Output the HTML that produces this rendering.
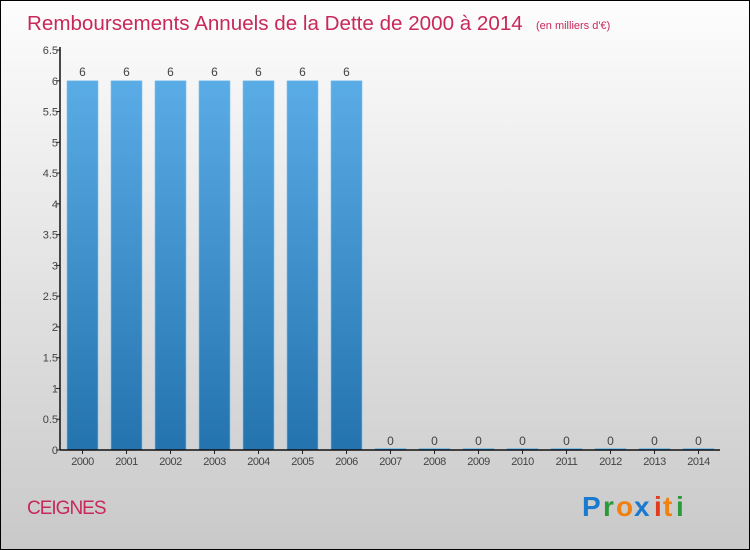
<!DOCTYPE html>
<html><head><meta charset="utf-8"><style>
body{margin:0;width:750px;height:550px;overflow:hidden}
svg{display:block;font-family:"Liberation Sans",sans-serif}
</style></head><body>
<svg id="chart" width="750" height="550">
<defs>
<linearGradient id="bg" x1="0" y1="0" x2="0" y2="1"><stop offset="0" stop-color="#fdfdfd"/><stop offset="1" stop-color="#c9c9c9"/></linearGradient>
<linearGradient id="bar" x1="0" y1="0" x2="0" y2="1"><stop offset="0" stop-color="#5aace6"/><stop offset="1" stop-color="#2473ae"/></linearGradient>
</defs>
<rect x="0.5" y="0.5" width="749" height="549" fill="url(#bg)" stroke="#000"/>
<text x="27" y="30" font-size="20.6" fill="#c8285a">Remboursements Annuels de la Dette de 2000 à 2014</text>
<text x="536" y="29" font-size="11" fill="#c8285a">(en milliers d'€)</text>
<text x="27" y="514" font-size="19" fill="#c8285a" letter-spacing="-1">CEIGNES</text>
<g font-size="28" font-weight="bold">
<text x="582" y="516" fill="#1a7ad0">P</text><text x="603" y="516" fill="#2a9a3a">r</text><text x="616" y="516" fill="#f08010">o</text><text x="634" y="516" fill="#1a7ad0">x</text><text x="654" y="516" fill="#e03a20">i</text><text x="663" y="516" fill="#f08010">t</text><text x="676" y="516" fill="#2a9a3a">i</text>
</g>
<g id="plot"></g>
</svg>
<script>
const years=["2000","2001","2002","2003","2004","2005","2006","2007","2008","2009","2010","2011","2012","2013","2014"];
const values=[6,6,6,6,6,6,6,0,0,0,0,0,0,0,0];
const yTicks=[0,0.5,1,1.5,2,2.5,3,3.5,4,4.5,5,5.5,6,6.5];
const yTickLabels=["0","0.5","1","1.5","2","2.5","3","3.5","4","4.5","5","5.5","6","6.5"];
const NS="http://www.w3.org/2000/svg";
const g=document.getElementById('plot');
const x0=60,x1=720,yBase=450,yTop=50,yMax=6.5;
const y=v=>yBase-(v/yMax)*(yBase-yTop);
const step=44,first=82.5;
const xc=i=>first+i*step;
function mk(t,a,txt){const e=document.createElementNS(NS,t);for(const k in a)e.setAttribute(k,a[k]);if(txt!==undefined)e.textContent=txt;g.appendChild(e);return e;}
yTicks.forEach((v,i)=>{
 const l=mk('line',{x1:x0-4,x2:x0,y1:y(v),y2:y(v),stroke:'#222'});
 
 
 const t=mk('text',{x:x0-2,y:y(v)+4,'text-anchor':'end','font-size':11,fill:'#444'},yTickLabels[i]);
 
 
});
values.forEach((v,i)=>{
 const h=Math.max(yBase-y(v),1.5);
 const r=mk('rect',{x:xc(i)-15.5,y:yBase-h,width:31,height:h,fill:'url(#bar)',stroke:'#7cc0ee','stroke-width':0.6});
 
 
 const vl=mk('text',{x:xc(i),y:y(v)-5,'text-anchor':'middle','font-size':12,fill:'#444'},String(v));
 
 
 const tk=mk('line',{x1:xc(i),x2:xc(i),y1:yBase,y2:yBase+4,stroke:'#222'});
 
 
 const xl=mk('text',{x:xc(i),y:yBase+15,'text-anchor':'middle','font-size':11,fill:'#444','letter-spacing':'-0.5'},years[i]);
 
 
});
const ya=mk('line',{x1:x0,x2:x0,y1:yTop-3,y2:yBase,stroke:'#111','stroke-width':1.5});


const xa=mk('line',{x1:x0,x2:x1,y1:yBase,y2:yBase,stroke:'#111','stroke-width':1.5});


</script>
</body></html>
